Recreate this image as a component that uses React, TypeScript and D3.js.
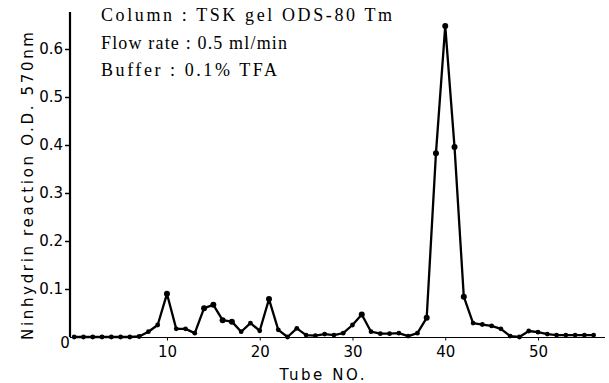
import React, { useRef, useEffect } from 'react';
import * as d3 from 'd3';

// tube numbers and ninhydrin O.D. 570nm
const tubes = [
  0, 1, 2, 3, 4, 5, 6, 7, 8, 9,
  10, 11, 12, 13, 14, 15, 16, 17, 18, 19,
  20, 21, 22, 23, 24, 25, 26, 27, 28, 29,
  30, 31, 32, 33, 34, 35, 36, 37, 38, 39,
  40, 41, 42, 43, 44, 45, 46, 47, 48, 49,
  50, 51, 52, 53, 54, 55, 56,
];
const absorbance = [
  0, 0, 0, 0, 0, 0, 0, 0.001, 0.011, 0.025,
  0.09, 0.017, 0.017, 0.008, 0.06, 0.067, 0.035, 0.032, 0.011, 0.029,
  0.013, 0.079, 0.015, 0, 0.018, 0.004, 0.003, 0.006, 0.004, 0.008,
  0.025, 0.047, 0.011, 0.007, 0.007, 0.008, 0.002, 0.008, 0.04, 0.383,
  0.648, 0.396, 0.084, 0.029, 0.026, 0.023, 0.017, 0.002, 0, 0.0125,
  0.01, 0.006, 0.004, 0.004, 0.004, 0.004, 0.004,
];
const xTicks = [10, 20, 30, 40, 50];
const yTicks = [0.1, 0.2, 0.3, 0.4, 0.5, 0.6];
const notes = ['Column : TSK gel ODS-80 Tm', 'Flow rate : 0.5 ml/min', 'Buffer : 0.1% TFA'];
const noteWidths = [291, 186, 176];

const width = 609;
const height = 383;

const App: React.FC = () => {
  const svgRef = useRef<SVGSVGElement>(null);

  useEffect(() => {
    if (!svgRef.current) return;
    const svg = d3.select(svgRef.current);
    svg.selectAll('*').remove();

    const data = tubes.map((t, i) => ({ tube: t, od: absorbance[i] }));

    const x = d3.scaleLinear().domain([0, 50]).range([74.2, 538]);
    const y = d3.scaleLinear().domain([0, 0.6]).range([337, 49]);

    const sans = '"DejaVu Sans", sans-serif';

    // axes lines
    svg.append('line')
      .attr('x1', 70).attr('x2', 70)
      .attr('y1', 12).attr('y2', y(0))
      .attr('stroke', '#000').attr('stroke-width', 2.2);
    svg.append('line')
      .attr('x1', 70).attr('x2', 605)
      .attr('y1', y(0) + 0.5).attr('y2', y(0) + 0.5)
      .attr('stroke', '#000').attr('stroke-width', 1.2);

    const yAxis = svg.append('g')
      .attr('transform', 'translate(70,0)')
      .call(d3.axisLeft(y).tickValues(yTicks).tickSize(5).tickPadding(2).tickFormat(d3.format('.1f')));
    yAxis.select('.domain').remove();
    yAxis.selectAll('line').attr('stroke-width', 1.5);
    yAxis.selectAll('text')
      .attr('font-family', sans).attr('font-size', 15).attr('fill', '#000');

    svg.append('text')
      .attr('x', 65).attr('y', 348)
      .attr('text-anchor', 'middle')
      .attr('font-family', sans).attr('font-size', 15)
      .text('0');

    const xAxis = svg.append('g')
      .attr('transform', `translate(0,${y(0) + 0.5})`)
      .call(d3.axisBottom(x).tickValues(xTicks).tickSize(3).tickPadding(6));
    xAxis.select('.domain').remove();
    xAxis.selectAll('text')
      .attr('font-family', sans).attr('font-size', 15).attr('fill', '#000');

    // axis titles
    svg.append('text')
      .attr('x', 322).attr('y', 380)
      .attr('text-anchor', 'middle')
      .attr('font-family', sans).attr('font-size', 15)
      .attr('textLength', 85).attr('lengthAdjust', 'spacing')
      .text('Tube NO.');

    svg.append('text')
      .attr('transform', 'translate(33,186) rotate(-90)')
      .attr('text-anchor', 'middle')
      .attr('font-family', sans).attr('font-size', 15)
      .attr('textLength', 308).attr('lengthAdjust', 'spacing')
      .text('Ninhydrin reaction  O.D. 570nm');

    // conditions
    notes.forEach((n, i) => {
      svg.append('text')
        .attr('x', 101).attr('y', 21 + i * 27.5)
        .attr('font-family', '"Liberation Serif", serif').attr('font-size', 18)
        .attr('textLength', noteWidths[i]).attr('lengthAdjust', 'spacing')
        .text(n);
    });

    // elution profile
    const line = d3.line<{ tube: number; od: number }>()
      .x(d => x(d.tube))
      .y(d => y(d.od));

    svg.append('path')
      .datum(data)
      .attr('fill', 'none')
      .attr('stroke', '#000')
      .attr('stroke-width', 2.3)
      .attr('stroke-linejoin', 'round')
      .attr('d', line);

    svg.selectAll('.pt')
      .data(data)
      .enter()
      .append('circle')
      .attr('cx', d => x(d.tube))
      .attr('cy', d => y(d.od))
      .attr('r', d => (d.od > 0.03 ? 3 : 2.4))
      .attr('fill', '#000');
  }, []);

  return (
    <div style={{ position: 'absolute', left: 0, top: 0, background: '#fff' }}>
      <svg ref={svgRef} width={width} height={height} style={{ display: 'block' }} />
    </div>
  );
};

export default App;
